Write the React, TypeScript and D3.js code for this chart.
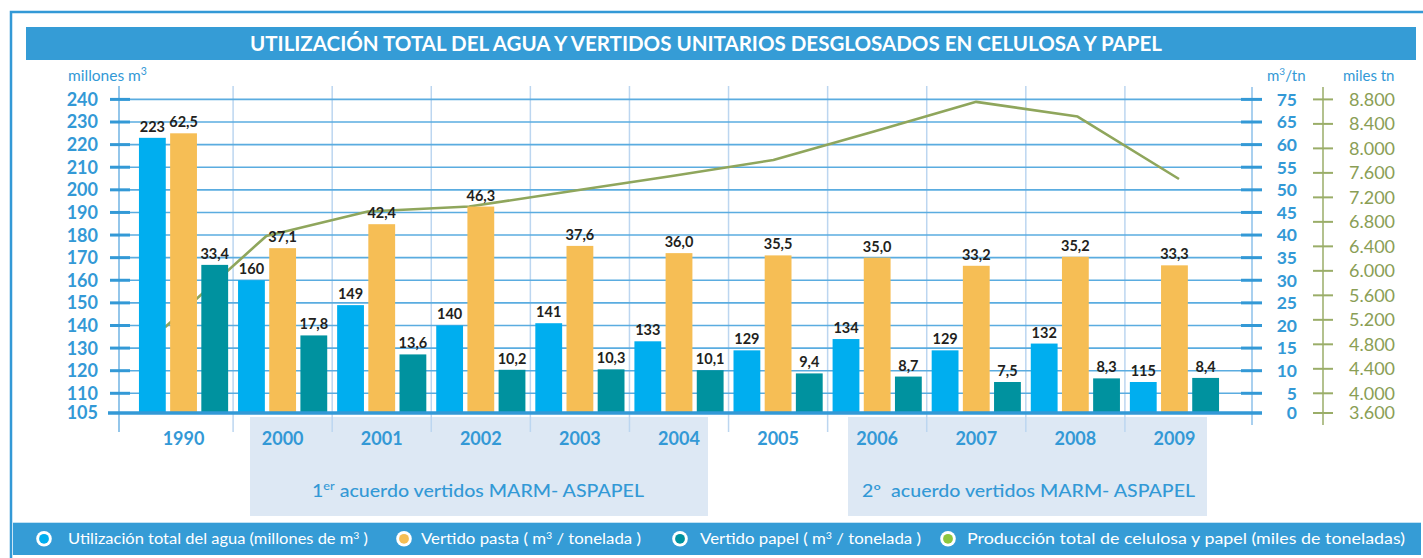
import React from 'react';
import * as d3 from 'd3';

const years = ['1990', '2000', '2001', '2002', '2003', '2004', '2005', '2006', '2007', '2008', '2009'];
const aguaValues = [223, 160, 149, 140, 141, 133, 129, 134, 129, 132, 115];
const pastaValues = [62.5, 37.1, 42.4, 46.3, 37.6, 36.0, 35.5, 35.0, 33.2, 35.2, 33.3];
const papelValues = [33.4, 17.8, 13.6, 10.2, 10.3, 10.1, 9.4, 8.7, 7.5, 8.3, 8.4];
const produccionValues = [5080, 6570, 6970, 7050, 7300, 7550, 7810, 8280, 8760, 8520, 7500];

const leftTicks = [105, 110, 120, 130, 140, 150, 160, 170, 180, 190, 200, 210, 220, 230, 240];
const rightTicks = [0, 5, 10, 15, 20, 25, 30, 35, 40, 45, 50, 55, 60, 65, 75];
const milesTicks = [3600, 4000, 4400, 4800, 5200, 5600, 6000, 6400, 6800, 7200, 7600, 8000, 8400, 8800];

const seriesKeys = ['agua', 'pasta', 'papel'];
const seriesColors: Record<string, string> = { agua: '#00aeef', pasta: '#f6be55', papel: '#00929f' };
const lineColor = '#8fa65c';

const title = 'UTILIZACIÓN TOTAL DEL AGUA Y VERTIDOS UNITARIOS DESGLOSADOS EN CELULOSA Y PAPEL';

const FONT = 'Lato, "Open Sans", sans-serif';
const BLUE = '#3399d6';
const OLIVE = '#8a9e55';

const esLocale = d3.formatLocale({ decimal: ',', thousands: '.', grouping: [3], currency: ['', ''] });
const fmtMiles = esLocale.format(',d');
const fmtDec = esLocale.format('.1f');

export default function App() {
  const BASE = 413;
  const yLeft = d3.scaleLinear().domain([105, 110, 240]).range([BASE, 393.3, 99.4]);
  const yRight = d3.scaleLinear().domain([0, 5, 65, 75]).range([BASE, 393.3, 122, 99.4]);
  const yMiles = d3.scaleLinear().domain([3600, 4000, 8800]).range([BASE, 393.3, 99.4]);
  const x0 = d3.scaleBand().domain(years).range([134, 1224]).paddingInner(0.1).paddingOuter(0.05);
  const x1 = d3.scaleBand().domain(seriesKeys).range([0, x0.bandwidth()]).paddingInner(0.14);
  const xLine = d3.scalePoint().domain(years).range([165, 1179]);

  const linePath = d3
    .line<number>()
    .x((_, i) => xLine(years[i]) as number)
    .y((d) => yMiles(d))(produccionValues) as string;

  const series = [
    { key: 'agua', values: aguaValues, scale: yLeft, fmt: (v: number) => String(v) },
    { key: 'pasta', values: pastaValues, scale: yRight, fmt: fmtDec },
    { key: 'papel', values: papelValues, scale: yRight, fmt: fmtDec },
  ];

  const step = x0.step();
  const bw = x0.bandwidth();
  const separators = years.slice(0, -1).map((y) => (x0(y) as number) + bw + (step - bw) / 2);

  const legendItems = [
    { color: '#00aeef', cx: 44, x: 68, w: 300, text: ['Utilización total del agua (millones de m', '3', ' )'] },
    { color: '#f6be55', cx: 404, x: 421, w: 220, text: ['Vertido pasta ( m', '3', ' / tonelada )'] },
    { color: '#00929f', cx: 680, x: 700, w: 221, text: ['Vertido papel ( m', '3', ' / tonelada )'] },
    { color: '#8dc63f', cx: 948, x: 967, w: 438, text: ['Producción total de celulosa y papel (miles de toneladas)', '', ''] },
  ];

  return (
    <svg
      width={1423}
      height={558}
      style={{ position: 'absolute', left: 0, top: 0, background: '#fff', fontFamily: FONT }}
    >
      {/* outer frame */}
      <path d="M11,558 V12 H1423" fill="none" stroke={BLUE} strokeWidth={2.5} />
      {/* title */}
      <rect x={26} y={27} width={1390} height={33} fill="#359cd6" />
      <text
        x={250}
        y={51.2}
        fill="#fff"
        fontSize={20}
        fontWeight={700}
        textLength={912}
        lengthAdjust="spacingAndGlyphs"
      >
        {title}
      </text>

      {/* unit labels */}
      <text x={68} y={81} fontSize={15.5} fill={BLUE}>
        millones m<tspan dy={-6} fontSize={10.5}>3</tspan>
      </text>
      <text x={1267} y={81} fontSize={15} fill={BLUE}>
        m<tspan dy={-6} fontSize={10}>3</tspan>
        <tspan dy={6}>/tn</tspan>
      </text>
      <text x={1343} y={81} fontSize={15} fill={BLUE}>
        miles tn
      </text>

      {/* period boxes */}
      <rect x={250} y={417} width={458} height={99} fill="#dde8f4" />
      <rect x={848} y={417} width={359} height={99} fill="#dde8f4" />
      <text x={312} y={497} fontSize={17} fontWeight={500} fill={BLUE} textLength={332} lengthAdjust="spacingAndGlyphs">
        1<tspan dy={-7} fontSize={11}>er</tspan>
        <tspan dy={7}> acuerdo vertidos MARM- ASPAPEL</tspan>
      </text>
      <text
        x={862}
        y={497}
        fontSize={17}
        fontWeight={500}
        fill={BLUE}
        textLength={333}
        lengthAdjust="spacingAndGlyphs"
        style={{ whiteSpace: 'pre' }}
      >
        {'2º  acuerdo vertidos MARM- ASPAPEL'}
      </text>

      {/* vertical separators */}
      {separators.map((sx, i) => (
        <line key={'vs' + i} x1={sx} x2={sx} y1={86} y2={432} stroke="#bcd6f0" strokeWidth={1.5} />
      ))}

      {/* horizontal gridlines */}
      {leftTicks
        .filter((t) => t !== 105)
        .map((t) => (
          <line key={'hg' + t} x1={119} x2={1252} y1={yLeft(t)} y2={yLeft(t)} stroke="#5aace0" strokeWidth={1.6} />
        ))}

      {/* axes lines */}
      <line x1={119} x2={119} y1={86} y2={432} stroke="#5aa8df" strokeWidth={1.3} />
      <line x1={1252} x2={1252} y1={87} y2={425} stroke="#8cc0ea" strokeWidth={1.5} />
      <line x1={1323} x2={1323} y1={87} y2={425} stroke="#9aad68" strokeWidth={1.5} />

      {/* production line (behind bars) */}
      <path d={linePath} fill="none" stroke={lineColor} strokeWidth={2.6} strokeLinejoin="round" />

      {/* bars */}
      {series.map((s) =>
        s.values.map((v, i) => {
          const x = (x0(years[i]) as number) + (x1(s.key) as number);
          const y = s.scale(v);
          return (
            <rect key={s.key + i} x={x} y={y} width={x1.bandwidth()} height={BASE - y} fill={seriesColors[s.key]} />
          );
        })
      )}

      {/* baseline */}
      <line x1={108} x2={1262} y1={BASE} y2={BASE} stroke={BLUE} strokeWidth={3.5} />

      {/* bar labels */}
      {series.map((s) =>
        s.values.map((v, i) => {
          const x = (x0(years[i]) as number) + (x1(s.key) as number) + x1.bandwidth() / 2;
          const y = s.scale(v);
          return (
            <text key={'l' + s.key + i} x={x} y={y - 6} textAnchor="middle" fontSize={14.5} fontWeight={700} fill="#231f20">
              {s.fmt(v)}
            </text>
          );
        })
      )}

      {/* left axis */}
      {leftTicks.map((t) => (
        <g key={'lt' + t}>
          {t !== 105 && <line x1={110} x2={130} y1={yLeft(t)} y2={yLeft(t)} stroke={BLUE} strokeWidth={3} />}
          <text x={98} y={yLeft(t)} dy="0.36em" textAnchor="end" fontSize={18} fontWeight={700} fill={BLUE}>
            {t}
          </text>
        </g>
      ))}

      {/* right axis m3/tn */}
      {rightTicks.map((t) => (
        <g key={'rt' + t}>
          {t !== 0 && <line x1={1241} x2={1262} y1={yRight(t)} y2={yRight(t)} stroke={BLUE} strokeWidth={3} />}
          <text x={1297} y={yRight(t)} dy="0.36em" textAnchor="end" fontSize={17.5} fontWeight={700} fill={BLUE}>
            {t}
          </text>
        </g>
      ))}

      {/* right axis miles tn */}
      {milesTicks.map((t) => (
        <g key={'mt' + t}>
          <line x1={1313} x2={1333} y1={yMiles(t)} y2={yMiles(t)} stroke="#9aad68" strokeWidth={2} />
          <text x={1349} y={yMiles(t)} dy="0.36em" fontSize={18} fill={OLIVE}>
            {fmtMiles(t)}
          </text>
        </g>
      ))}

      {/* year labels */}
      {years.map((y) => (
        <text
          key={'yr' + y}
          x={(x0(y) as number) + bw / 2}
          y={445}
          textAnchor="middle"
          fontSize={18}
          fontWeight={700}
          fill={BLUE}
        >
          {y}
        </text>
      ))}

      {/* legend */}
      <rect x={13} y={522.7} width={1408} height={32.3} fill="#359cd6" />
      {legendItems.map((it, i) => (
        <g key={'lg' + i}>
          <circle cx={it.cx} cy={538.8} r={7.8} fill="#fff" />
          <circle cx={it.cx} cy={538.8} r={4.9} fill={it.color} />
          <text x={it.x} y={544} fontSize={15} fill="#fff" textLength={it.w} lengthAdjust="spacingAndGlyphs">
            {it.text[0]}
            {it.text[1] && (
              <tspan dy={-5} fontSize={9.5}>
                {it.text[1]}
              </tspan>
            )}
            {it.text[2] && <tspan dy={it.text[1] ? 5 : 0}>{it.text[2]}</tspan>}
          </text>
        </g>
      ))}
    </svg>
  );
}
